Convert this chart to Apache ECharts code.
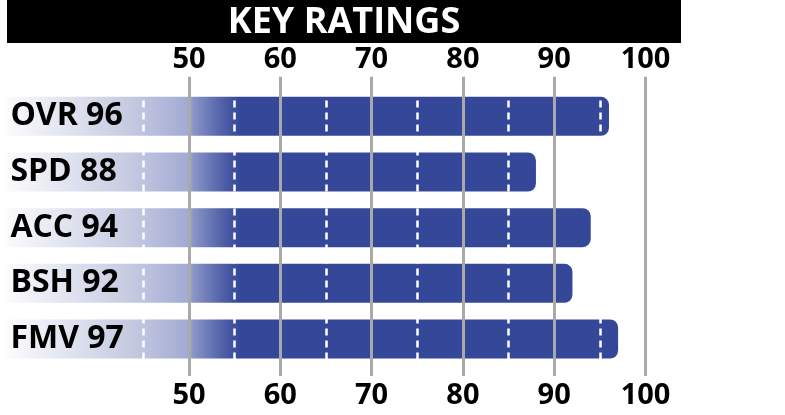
<!DOCTYPE html>
<html>
<head>
<meta charset="utf-8">
<script src="https://cdn.jsdelivr.net/npm/echarts@6/dist/echarts.min.js"></script>
<style>
html,body{margin:0;padding:0;background:#fff;}
#chart{width:785px;height:415px;}
</style>
</head>
<body>
<div id="chart"></div>
<script>
const titleText = 'KEY RATINGS';
const categories = ['OVR', 'SPD', 'ACC', 'BSH', 'FMV'];
const ratings = [96, 88, 94, 92, 97];
const dashValues = [45, 55, 65, 75, 85, 95];

const FONT = '"Open Sans", "DejaVu Sans", sans-serif';
const chart = echarts.init(document.getElementById('chart'));

const option = {
  animation: false,
  backgroundColor: '#ffffff',
  graphic: [
    { type: 'rect', shape: { x: 7, y: 0, width: 674, height: 43 }, style: { fill: '#000000' }, z: 1 },
    { type: 'text', x: 344, y: 23, z: 2,
      style: { text: titleText, fill: '#ffffff', font: 'bold 36px ' + FONT, align: 'center', verticalAlign: 'middle' } }
  ],
  grid: [
    { left: 189, right: 139.5, top: 76.7, bottom: 39, containLabel: false },
    { left: 6.4, right: 48.2, top: 88.5, bottom: 48.2, containLabel: false }
  ],
  xAxis: [
    { type: 'value', gridIndex: 0, position: 'top', min: 50, max: 100, interval: 10, z: 10,
      axisLine: { show: false }, axisTick: { show: false },
      splitLine: { show: true, lineStyle: { color: '#a9a9a9', width: 3 } },
      axisLabel: { margin: 2, color: '#000', fontFamily: FONT, fontWeight: 'bold', fontSize: 29 } },
    { type: 'value', gridIndex: 0, position: 'bottom', min: 50, max: 100, interval: 10,
      axisLine: { show: false }, axisTick: { show: false }, splitLine: { show: false },
      axisLabel: { margin: 5, color: '#000', fontFamily: FONT, fontWeight: 'bold', fontSize: 29 } },
    { type: 'value', gridIndex: 1, min: 30, max: 110, show: false, splitLine: { show: false } }
  ],
  yAxis: [
    { type: 'value', gridIndex: 0, min: 0, max: 1, show: false, splitLine: { show: false } },
    { type: 'category', gridIndex: 1, data: categories, inverse: true, show: false }
  ],
  series: [
    { type: 'scatter', xAxisIndex: 0, yAxisIndex: 0, data: [], silent: true },
    {
      type: 'bar', xAxisIndex: 2, yAxisIndex: 1, data: ratings, barWidth: 39, z: 2,
      itemStyle: {
        borderRadius: [0, 8, 8, 0],
        color: {
          type: 'linear', x: 7, y: 0, x2: 240, y2: 0, global: true,
          colorStops: [
            { offset: 0, color: '#fbfbfd' },
            { offset: 0.54, color: '#c4c9e1' },
            { offset: 0.78, color: '#a2aad3' },
            { offset: 0.80, color: '#8a94c7' },
            { offset: 0.92, color: '#5363a9' },
            { offset: 1, color: '#344799' }
          ]
        }
      },
      label: {
        show: true, position: 'insideLeft', distance: 4,
        formatter: p => p.name + ' ' + p.value,
        color: '#000', fontFamily: FONT, fontWeight: 'bold', fontSize: 32
      },
      markLine: {
        silent: true, symbol: 'none', label: { show: false },
        lineStyle: { color: '#ffffff', width: 2.5, type: [7, 5] },
        data: dashValues.map(v => ({ xAxis: v }))
      }
    }
  ]
};
chart.setOption(option);
</script>
</body>
</html>
